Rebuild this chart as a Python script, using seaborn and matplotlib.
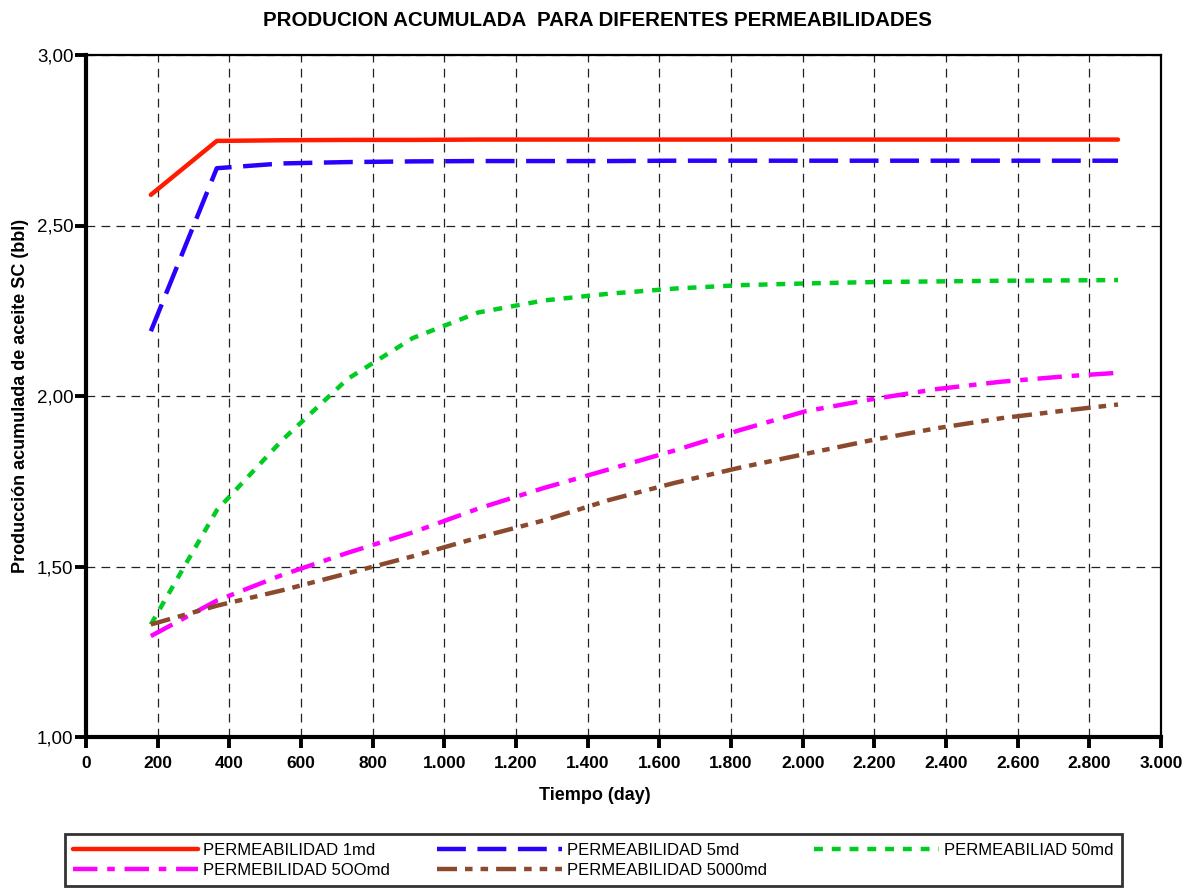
import numpy as np
import pandas as pd
import matplotlib
matplotlib.use("Agg")
import matplotlib.pyplot as plt
from matplotlib.ticker import FuncFormatter, MultipleLocator
import seaborn as sns

# ---- data ----
tiempo = [181, 365, 547, 730, 912, 1095, 1277, 1460, 1642, 1825, 2007, 2190, 2372, 2555, 2737, 2880]
perm_1md = [2.590, 2.748, 2.750, 2.751, 2.751, 2.752, 2.752, 2.752, 2.752, 2.752, 2.752, 2.752, 2.752, 2.752, 2.752, 2.752]
perm_5md = [2.190, 2.668, 2.682, 2.686, 2.688, 2.689, 2.689, 2.689, 2.690, 2.690, 2.690, 2.690, 2.690, 2.690, 2.690, 2.690]
perm_50md = [1.330, 1.665, 1.870, 2.050, 2.170, 2.245, 2.280, 2.300, 2.315, 2.325, 2.330, 2.334, 2.336, 2.338, 2.339, 2.340]
perm_500md = [1.296, 1.400, 1.475, 1.540, 1.600, 1.670, 1.730, 1.785, 1.840, 1.900, 1.955, 1.990, 2.020, 2.042, 2.058, 2.068]
perm_5000md = [1.330, 1.385, 1.430, 1.480, 1.530, 1.585, 1.635, 1.695, 1.745, 1.790, 1.830, 1.870, 1.905, 1.935, 1.958, 1.975]

series_names = ["PERMEABILIDAD 1md", "PERMEABILIDAD 5md", "PERMEABILIAD 50md",
                "PERMEBILIDAD 5OOmd", "PERMEABILIDAD 5000md"]
series_values = [perm_1md, perm_5md, perm_50md, perm_500md, perm_5000md]

df = pd.concat([pd.DataFrame({"t": tiempo, "v": vals, "serie": name})
                for name, vals in zip(series_names, series_values)], ignore_index=True)

colors = ["#ff1a00", "#2a00ff", "#00cc22", "#ff00ff", "#8b4a2e"]
dash_styles = ["", (6.5, 2.6), (2.0, 2.0), (5.5, 2.2, 1.7, 2.2), (4.5, 1.8, 1.7, 1.8, 1.7, 1.8)]
palette = dict(zip(series_names, colors))
dashes = dict(zip(series_names, dash_styles))

sns.set_theme(style="white")
plt.rcParams["font.family"] = ["Liberation Sans", "DejaVu Sans"]
plt.rcParams["text.color"] = "black"
plt.rcParams["axes.labelcolor"] = "black"
plt.rcParams["xtick.color"] = "black"
plt.rcParams["ytick.color"] = "black"

fig = plt.figure(figsize=(11.95, 8.94), dpi=100)
ax = fig.add_axes([86 / 1195, 1 - 737 / 894, (1161 - 86) / 1195, (737 - 55) / 894])

sns.lineplot(data=df, x="t", y="v", hue="serie", style="serie",
             hue_order=series_names, style_order=series_names,
             palette=palette, dashes=dashes, linewidth=3.2,
             errorbar=None, legend=False, ax=ax)

ax.set_xlim(0, 3000)
ax.set_ylim(1.0, 3.0)
ax.xaxis.set_major_locator(MultipleLocator(200))
ax.yaxis.set_major_locator(MultipleLocator(0.5))
ax.xaxis.set_major_formatter(FuncFormatter(lambda x, p: f"{int(round(x)):,}".replace(",", ".")))
ax.yaxis.set_major_formatter(FuncFormatter(lambda y, p: f"{y:.2f}".replace(".", ",")))

ax.grid(True, color="#222222", linestyle=(0, (7, 5)), linewidth=0.9)
ax.set_axisbelow(True)

for side in ["left", "bottom"]:
    ax.spines[side].set_linewidth(3.0)
    ax.spines[side].set_color("black")
for side in ["top", "right"]:
    ax.spines[side].set_linewidth(1.6)
    ax.spines[side].set_color("black")

ax.tick_params(axis="x", direction="out", length=8, width=2.8, color="black",
               labelcolor="black", labelsize=12.5, pad=6, bottom=True)
ax.tick_params(axis="y", direction="out", length=8, width=2.8, color="black",
               labelcolor="black", labelsize=13.5, pad=1, left=True)
for lab in ax.get_xticklabels():
    lab.set_fontweight("bold")

ax.set_xlabel("Tiempo (day)", fontsize=13, fontweight="bold", color="black")
ax.xaxis.set_label_coords((595 - 86) / 1075, -(787 - 737) / 682)
ax.set_ylabel("Producción acumulada de aceite SC (bbl)", fontsize=13, fontweight="bold", color="black")
ax.yaxis.set_label_coords(-(86 - 29) / 1075, 0.5)

fig.suptitle("PRODUCION ACUMULADA  PARA DIFERENTES PERMEABILIDADES",
             x=0.5, y=1 - 20 / 894, fontsize=14.8, fontweight="bold", va="center", color="black")

# legend filled row-wise like the reference (matplotlib fills column-wise)
order = [0, 3, 1, 4, 2]
leg = fig.legend(handles=[ax.lines[i] for i in order],
                 labels=[series_names[i] for i in order], ncol=3,
                 bbox_to_anchor=(65 / 1195, 8 / 894, (1122 - 65) / 1195, 58 / 894),
                 loc="lower left", mode="expand",
                 prop={"family": "Liberation Sans", "size": 12},
                 handlelength=7.5, handletextpad=0.3, columnspacing=1.0, labelspacing=0.3,
                 frameon=True, fancybox=False, borderaxespad=0, borderpad=0.5,
                 labelcolor="black")
leg.get_frame().set_edgecolor("black")
leg.get_frame().set_linewidth(2.0)

fig.savefig("out.png", dpi=100)
